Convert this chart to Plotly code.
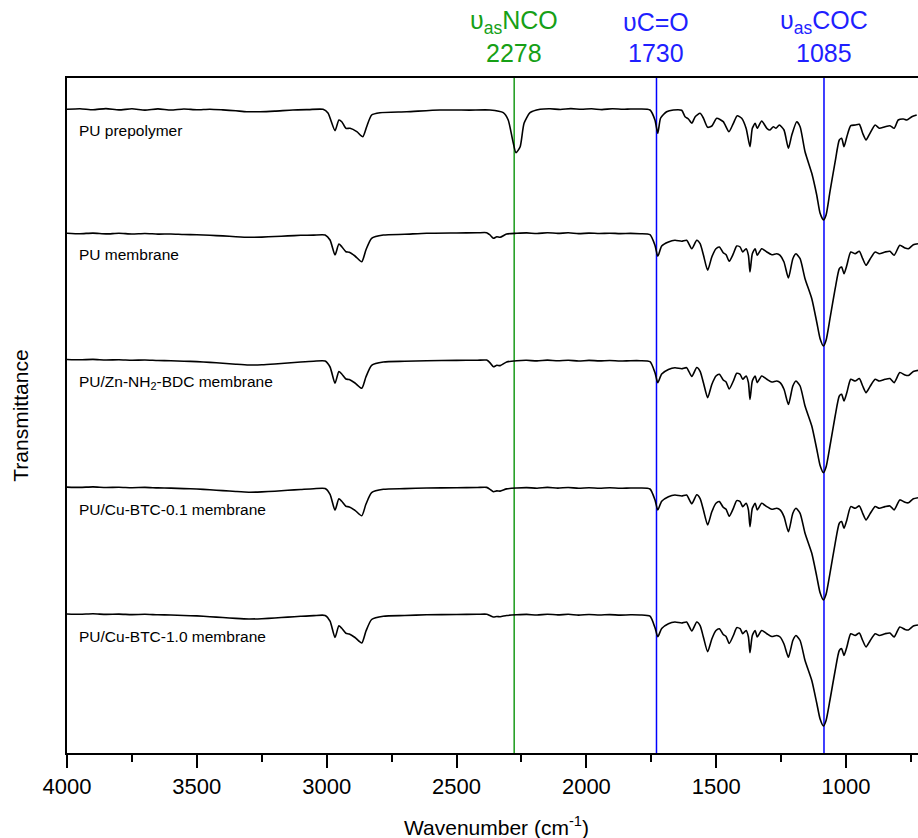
import plotly.graph_objects as go

# ---------------- data ----------------
series_names = ["PU prepolymer", "PU membrane", "PU/Zn-NH<sub>2</sub>-BDC membrane",
                "PU/Cu-BTC-0.1 membrane", "PU/Cu-BTC-1.0 membrane"]
series_offsets = [643.7, 519.3, 392.0, 264.7, 138.0]   # vertical stacking offsets (a.u.)

marker_wn = [2278, 1730, 1085]
marker_names = ["υ<sub>as</sub>NCO", "υC=O", "υ<sub>as</sub>COC"]
marker_colors = ["#16a016", "#1f1fff", "#1f1fff"]
marker_line_colors = ["#1a9a1a", "#0000ff", "#0000ff"]

x_ticks = [4000, 3500, 3000, 2500, 2000, 1500, 1000]

# PU prepolymer
wn_pre = [4000, 3950, 3900, 3850, 3800, 3750, 3700, 3650, 3600, 3550, 3500, 3450, 3400, 3350, 3308, 3257, 3200, 3130, 3070, 3014,
          2995, 2968, 2953, 2942, 2926, 2910, 2884, 2861, 2846, 2827, 2795,
          2692, 2564, 2450, 2371, 2320, 2301, 2284, 2271, 2255, 2240, 2217, 2178, 2140, 2100, 2060, 2020, 1980, 1940, 1900, 1860, 1830,
          1793, 1755, 1736, 1725, 1714, 1691, 1665, 1633, 1620, 1607, 1594, 1581, 1562, 1549, 1533, 1517, 1498, 1473, 1451,
          1434, 1419, 1402, 1385, 1370, 1361, 1350, 1342, 1325, 1305, 1293, 1280, 1270, 1257, 1239, 1222, 1209, 1190, 1177, 1158,
          1132, 1113, 1100, 1087, 1077, 1062, 1042, 1026, 1017, 1008, 997, 982, 965, 949, 936, 923, 908, 888, 872, 850, 831, 815, 799, 779, 766, 747, 728]
t_pre = [0, 0.6, -0.4, 0.7, -0.6, 0.5, -0.8, 0.4, -0.7, 0.3, -0.5, 0.1, -0.6, -1.5, -2.4, -2.4, -1.8, -0.7, -0.3, 0,
         -3.7, -21.4, -10.7, -12.4, -19, -19, -22.4, -27.4, -17.4, -5.7, -3.4,
         -2.4, -0.7, -0.8, -0.7, -3.4, -10.7, -30.7, -43.4, -37.4, -14, -3.4, 0, 0.6, -0.2, 0.7, 0, 0.5, -0.3, 0.6, 0, 0.3,
         0.3, -0.7, -10.7, -24, -8.7, -2.4, -0.7, -1, -7.4, -9.7, -14, -7.4, -4, -9, -18, -16.7, -9, -12.4, -22.4,
         -14, -6.4, -9, -19, -37.4, -19, -14, -19, -11.7, -19, -20.7, -17.4, -19, -15.7, -20.7, -39, -25.7, -12.4, -17.4, -42.4,
         -64, -85.7, -104, -110.7, -105.7, -82.4, -52.4, -30.7, -29, -37.4, -27.4, -16.4, -15.7, -15, -24, -30.7, -24, -15.7, -19, -17.4, -16.4, -19, -10.7, -9.7, -10.7, -7.4, -5.7]

# membranes (shared wavenumber grid)
wn_mem = [4000, 3950, 3900, 3850, 3800, 3750, 3700, 3650, 3600, 3550, 3500, 3450, 3400, 3350, 3300, 3250, 3200, 3150, 3100, 3050,
          3006, 2987, 2968, 2953, 2942, 2926, 2913, 2891, 2865, 2849, 2827,
          2782, 2700, 2615, 2500, 2420, 2384, 2371, 2358, 2345, 2332, 2307, 2268, 2230, 2190, 2150, 2110, 2070, 2030, 1990, 1950, 1910, 1870, 1830,
          1793, 1755, 1736, 1725, 1710, 1684, 1659, 1633, 1614, 1594, 1575, 1562, 1549, 1533, 1517, 1501, 1488, 1473, 1462, 1450,
          1434, 1421, 1408, 1398, 1385, 1376, 1370, 1361, 1350, 1342, 1325, 1305, 1286, 1267, 1254, 1239, 1222, 1205, 1193, 1177, 1158,
          1132, 1113, 1100, 1087, 1077, 1062, 1042, 1026, 1017, 1008, 997, 982, 965, 949, 936, 923, 908, 888, 872, 850, 831, 815, 793, 773, 760, 741, 723]
t_mem = [0.5, 0, 0.6, -0.2, 0.4, -0.3, 0.2, -0.4, -0.3, -0.8, -1.0, -1.6, -2.2, -3.0, -3.6, -3.4, -2.8, -2.2, -1.6, -1.4,
         -1.3, -6.3, -21.3, -10.3, -13, -18, -18.6, -22.3, -28, -16.3, -4.6,
         -1.3, -0.6, 0.4, 0.7, 0.9, 1.0, -1.3, -4.6, -3.0, -3.6, -0.3, 0.4, 0.8, 0.2, 1.0, 0.3, 0.9, 0.1, 0.6, 0.2, 0.5, 0.1, 0.3,
         0, -1, -11.6, -22.6, -12.3, -8.3, -6.6, -7.6, -6.6, -15, -6.6, -10, -21.6, -36.6, -23.3, -15, -13.3, -19, -21, -27.6,
         -20, -12.3, -13.3, -18.3, -15, -21.6, -38.3, -20, -15, -21.6, -15, -18.3, -21, -20, -21.6, -28.3, -44.3, -25, -20, -25, -45,
         -65, -88.3, -105, -112.3, -106.6, -85, -55, -35, -33.3, -40, -31.6, -18.3, -20, -17.6, -25, -31.6, -25.6, -18.3, -20, -18.3, -17.6, -21.6, -11.6, -14.3, -15, -11, -10]
t_zn = [1.5, 1.2, 1.6, 1.0, 1.3, 0.8, 1.0, 0.5, 0.3, -0.2, -0.6, -1.4, -2.2, -3.2, -4.0, -3.8, -3.0, -2.0, -1.0, -0.2,
        0, -6, -22.3, -10.5, -13, -18, -18.6, -22, -27.3, -16, -4.3,
        -1, -0.3, 0.3, 0.6, 0.8, 0.9, -1.8, -5.7, -4.3, -4.6, -1, 0.3, 0.7, 0.1, 0.9, 0.2, 0.8, 0, 0.6, 0.1, 0.5, 0, 0.3,
        0.3, -0.7, -11.5, -21.7, -13, -8.5, -6.7, -7.7, -6.7, -15.5, -6.5, -10.3, -22, -36.7, -23.5, -15, -13.3, -19, -21, -28,
        -20, -12.3, -13.3, -18.3, -15, -21.6, -38.4, -20, -15, -21.6, -15, -18.3, -21, -20, -21.6, -28.3, -43.5, -25, -20, -25, -45,
        -65, -88, -104.5, -111.7, -106, -85, -55, -35, -33.3, -40, -31.6, -18.3, -20, -17.6, -25, -31.6, -25.6, -18.3, -20, -18.3, -17.6, -21.6, -11.6, -14, -14.5, -10.5, -9.4]
t_cu01 = [1.2, 0.9, 1.4, 0.8, 1.1, 0.6, 0.9, 0.4, 0.2, -0.3, -0.7, -1.5, -2.3, -3.2, -3.9, -3.6, -2.9, -2.0, -1.2, -0.4,
          -0.2, -6, -22, -10.5, -13, -18, -18.6, -22, -27.5, -16, -4.3,
          -1, -0.3, 0.3, 0.6, 0.8, 0.9, -1.0, -3.4, -2.6, -2.8, -0.6, 0.3, 0.7, 0.1, 0.9, 0.2, 0.8, 0, 0.6, 0.1, 0.5, 0, 0.3,
          0.3, -0.7, -11.5, -21.7, -13, -8.5, -6.7, -7.7, -6.7, -15.5, -6.5, -10.3, -22, -36.7, -23.5, -15, -13.3, -19, -21, -28,
          -20, -12.3, -13.3, -18.3, -15, -21.6, -38.4, -20, -15, -21.6, -15, -18.3, -21, -20, -21.6, -28.3, -43.5, -25, -20, -25, -45,
          -65, -88, -104.5, -111.7, -106, -85, -55, -35, -33.3, -40, -31.6, -18.3, -20, -17.6, -25, -31.6, -25.6, -18.3, -20, -18.3, -17.6, -21.6, -11.6, -14, -14.5, -10.5, -9.4]
t_cu10 = [1.0, 0.7, 1.2, 0.6, 0.9, 0.4, 0.7, 0.2, 0.0, -0.5, -0.9, -1.7, -2.5, -3.4, -4.0, -3.7, -3.0, -2.1, -1.3, -0.6,
          -0.4, -6.2, -22.5, -10.8, -13.3, -18.3, -19, -22.5, -28, -16.3, -4.5,
          -1.2, -0.5, 0.2, 0.5, 0.7, 0.8, -0.6, -2.0, -1.5, -1.7, -0.5, 0.2, 0.6, 0, 0.8, 0.1, 0.7, -0.1, 0.5, 0, 0.4, -0.1, 0.2,
          0, -1.2, -12.5, -21.7, -13.5, -8.7, -7, -8, -7, -16, -7, -10.7, -22.5, -36.7, -24, -15.5, -13.8, -19.5, -21.5, -28.5,
          -20.5, -12.7, -13.7, -18.7, -15.5, -22, -37.7, -20.5, -15.5, -22, -15.5, -18.7, -21.5, -20.5, -22, -29, -42.3, -25.5, -20.5, -25.5, -45.5,
          -65.5, -88, -104, -111, -105.5, -85, -55.5, -35.5, -33.7, -40.5, -32, -18.7, -20.5, -18, -25.5, -32, -26, -18.7, -20.5, -18.7, -18, -22, -12, -14.5, -15, -11, -10]

series_wn = [wn_pre, wn_mem, wn_mem, wn_mem, wn_mem]
series_t = [t_pre, t_mem, t_zn, t_cu01, t_cu10]

FONT = "Liberation Sans, Arial"

# ---------------- figure ----------------
fig = go.Figure()
for name, wn, t, off in zip(series_names, series_wn, series_t, series_offsets):
    assert len(wn) == len(t), (name, len(wn), len(t))
    fig.add_trace(go.Scatter(x=wn, y=[off + v for v in t], mode="lines",
                             line=dict(color="black", width=1.6, shape="spline", smoothing=0.6),
                             name=name, showlegend=False, hoverinfo="skip"))
    fig.add_annotation(x=3962, y=off - 21, xref="x", yref="y", text=name, showarrow=False,
                       xanchor="left", yanchor="middle",
                       font=dict(family=FONT, size=15.5, color="black"))

for wn, nm, col, lcol in zip(marker_wn, marker_names, marker_colors, marker_line_colors):
    fig.add_shape(type="line", xref="x", yref="paper", x0=wn, x1=wn, y0=0, y1=1,
                  line=dict(color=lcol, width=1.5), layer="below")
    fig.add_annotation(x=wn, y=1.083, xref="x", yref="paper", text=nm, showarrow=False,
                       xanchor="center", yanchor="middle",
                       font=dict(family=FONT, size=25, color=col))
    fig.add_annotation(x=wn, y=1.037, xref="x", yref="paper", text=str(wn), showarrow=False,
                       xanchor="center", yanchor="middle",
                       font=dict(family=FONT, size=25, color=col))

fig.add_annotation(x=-0.055, y=0.5, xref="paper", yref="paper", text="Transmittance",
                   textangle=-90, showarrow=False, xanchor="center", yanchor="middle",
                   font=dict(family=FONT, size=21, color="black"))
fig.add_annotation(x=0.505, y=-0.108, xref="paper", yref="paper", text="Wavenumber (cm<sup>-1</sup>)",
                   showarrow=False, xanchor="center", yanchor="middle",
                   font=dict(family=FONT, size=21, color="black"))

fig.update_layout(
    width=918, height=838,
    margin=dict(l=67, r=0, t=78, b=85),
    paper_bgcolor="white", plot_bgcolor="white",
    font=dict(family=FONT, color="black"),
    xaxis=dict(range=[4000, 723], tickvals=x_ticks, ticktext=[str(v) for v in x_ticks],
               showline=True, linecolor="black", linewidth=2, mirror=True,
               ticks="outside", ticklen=13, tickwidth=2, tickcolor="black",
               minor=dict(ticks="outside", ticklen=7, tickwidth=2, tickcolor="black", dtick=250, tick0=0, showgrid=False),
               tickfont=dict(family=FONT, size=22, color="black"),
               showgrid=False, zeroline=False),
    yaxis=dict(range=[0, 675], showline=True, linecolor="black", linewidth=2,
               showticklabels=False, ticks="", showgrid=False, zeroline=False),
)

fig.write_html("out.html", config={"displayModeBar": False},
               post_script="document.body.style.margin='0';document.body.style.overflow='hidden';")
